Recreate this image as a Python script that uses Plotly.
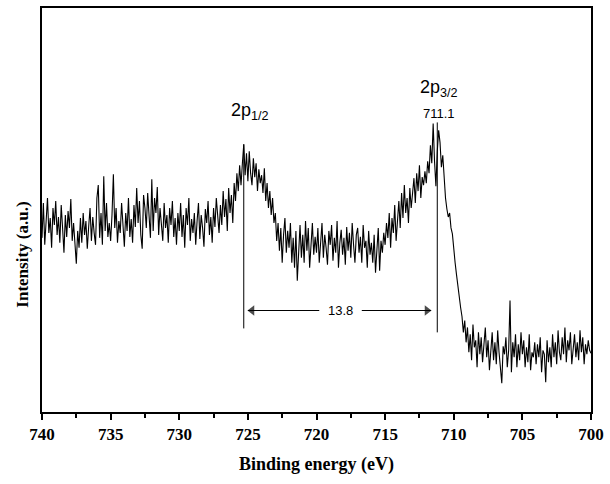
import numpy as np
import plotly.graph_objects as go

# Binding energy grid (eV), 740 -> 700 in 0.1 eV steps
energy = np.round(np.arange(740.0, 699.95, -0.1), 1)

# Intensity (a.u.), one row per eV
intensity = [
    175, 210, 168, 200, 215, 180, 195, 165, 205, 188,
    212, 178, 196, 170, 208, 185, 160, 198, 176, 202,
    185, 214, 172, 190, 168, 149, 182, 165, 195, 170,
    200, 178, 192, 164, 186, 205, 172, 196, 180, 168,
    215, 228, 175, 200, 168, 237, 182, 210, 176, 190,
    172, 198, 239, 185, 205, 170, 192, 180, 210, 188,
    166, 200, 182, 215, 176, 194, 170, 208, 186, 225,
    190, 212, 178, 164, 218, 205, 185, 220, 196, 175,
    234, 182, 215, 200, 226, 178, 205, 190, 172, 210,
    185, 198, 170, 205, 188, 212, 176, 195, 168, 200,
    182, 210, 176, 198, 165, 205, 188, 215, 172, 194,
    180, 200, 168, 192, 210, 174, 198, 185, 166, 204,
    190, 212, 178, 196, 170, 205, 186, 215, 194, 180,
    208, 188, 222, 196, 214, 182, 225, 200, 218, 190,
    230, 212, 240, 222, 248, 228, 250, 269, 238, 260,
    232, 262, 240, 228, 255, 236, 250, 222, 244, 230,
    238, 220, 245, 212, 230, 205, 222, 198, 215, 190,
    200, 172, 190, 162, 185, 150, 178, 195, 160, 182,
    165, 190, 150, 175, 145, 182, 132, 170, 188, 155,
    178, 150, 192, 162, 185, 145, 172, 190, 158, 176,
    160, 185, 150, 172, 190, 155, 178, 165, 148, 182,
    168, 188, 152, 175, 160, 192, 145, 170, 183, 158,
    175, 148, 186, 162, 180, 155, 190, 168, 150, 178,
    185, 160, 176, 150, 188, 165, 172, 145, 182, 158,
    170, 150, 178, 140, 165, 185, 142, 172, 160, 180,
    168, 190, 175, 200, 165, 195, 180, 208, 172, 198,
    212, 185, 220, 195, 228, 200, 215, 190, 225, 205,
    218, 235, 210, 240, 222, 248, 215, 236, 228, 242,
    230, 252, 240, 268, 250, 290, 252, 227, 262, 283,
    271, 246, 258, 234, 215, 204, 196, 200, 185, 179,
    160, 150, 138, 125, 112, 105, 96, 80, 92, 70,
    85, 60, 78, 52, 88, 65, 72, 45, 80, 58,
    75, 50, 68, 85, 55, 72, 42, 65, 80, 52,
    70, 48, 82, 60, 40, 29, 66, 58, 75, 45,
    62, 112, 40, 70, 55, 78, 45, 68, 52, 80,
    58, 72, 45, 65, 50, 78, 42, 60, 55, 70,
    48, 68, 55, 75, 40, 62, 58, 30, 72, 50,
    65, 45, 78, 55, 70, 48, 82, 60, 52, 75,
    58, 85, 50, 72, 62, 80, 48, 68, 78, 55,
    70, 52, 82, 60, 75, 48, 68, 58, 72, 62,
    59,
]

x_ticks = [740, 735, 730, 725, 720, 715, 710, 705, 700]
x_minor = [737.5, 732.5, 727.5, 722.5, 717.5, 712.5, 707.5, 702.5]

# peak markers / splitting annotation
peak_half = 725.3
peak_three_half = 711.2
split_label = "13.8"
split_y = 102
arrow_left = [725.0, 719.8]     # head, tail
arrow_right = [711.65, 716.7]   # head, tail

SERIF = "Liberation Serif"
SANS = "Liberation Sans"

fig = go.Figure()
fig.add_trace(go.Scatter(x=energy, y=intensity, mode="lines",
                         line=dict(color="black", width=1.1), showlegend=False,
                         hoverinfo="skip"))

# vertical marker lines
fig.add_shape(type="line", x0=peak_half, x1=peak_half, y0=84, y1=269,
              line=dict(color="black", width=1))
fig.add_shape(type="line", x0=peak_three_half, x1=peak_three_half, y0=80, y1=291,
              line=dict(color="black", width=1))

# arrow shafts
fig.add_shape(type="line", x0=arrow_left[0], x1=arrow_left[1], y0=split_y, y1=split_y,
              line=dict(color="black", width=1))
fig.add_shape(type="line", x0=arrow_right[0], x1=arrow_right[1], y0=split_y, y1=split_y,
              line=dict(color="black", width=1))
# arrow heads
fig.add_trace(go.Scatter(x=[arrow_left[0] - 0.3, arrow_right[0] + 0.3],
                         y=[split_y, split_y], mode="markers",
                         marker=dict(symbol=["triangle-left", "triangle-right"],
                                     size=[9, 9], color="black", line=dict(width=0)),
                         showlegend=False, hoverinfo="skip"))
fig.add_annotation(x=(arrow_left[1] + arrow_right[1]) / 2, y=split_y, text=split_label,
                   showarrow=False, font=dict(family=SANS, size=13, color="black"))

# labels
fig.add_annotation(x=724.85, y=302, text="2p<sub>1/2</sub>", showarrow=False,
                   font=dict(family=SANS, size=18, color="black"))
fig.add_annotation(x=711.05, y=325, text="2p<sub>3/2</sub>", showarrow=False,
                   font=dict(family=SANS, size=18, color="black"))
fig.add_annotation(x=711.1, y=300, text="711.1", showarrow=False,
                   font=dict(family=SANS, size=13, color="black"))

# y title
fig.add_annotation(xref="paper", yref="paper", x=-0.036, y=0.39,
                   xanchor="center", yanchor="middle",
                   text="<b>Intensity (a.u.)</b>", textangle=-90, showarrow=False,
                   font=dict(family=SERIF, size=17, color="black"))

fig.update_xaxes(range=[740, 700], tickvals=x_ticks, ticks="outside", ticklen=6,
                 tickwidth=1.5, tickcolor="black", showline=True, linecolor="black",
                 linewidth=1.5, mirror=True, showgrid=False, zeroline=False,
                 tickfont=dict(family=SERIF, size=17, color="black", weight="bold"),
                 minor=dict(tickvals=x_minor, ticks="outside", ticklen=4,
                            tickwidth=1.5, tickcolor="black"),
                 title=dict(text="<b>Binding energy (eV)</b>", standoff=14,
                            font=dict(family=SERIF, size=18, color="black")))
fig.update_yaxes(range=[0, 406], showticklabels=False, ticks="", showline=True,
                 linecolor="black", linewidth=1.5, mirror=True, showgrid=False,
                 zeroline=False)

fig.update_layout(width=610, height=484, margin=dict(l=42, r=17, t=6, b=72),
                  plot_bgcolor="white", paper_bgcolor="white")

fig.write_html("out.html")
